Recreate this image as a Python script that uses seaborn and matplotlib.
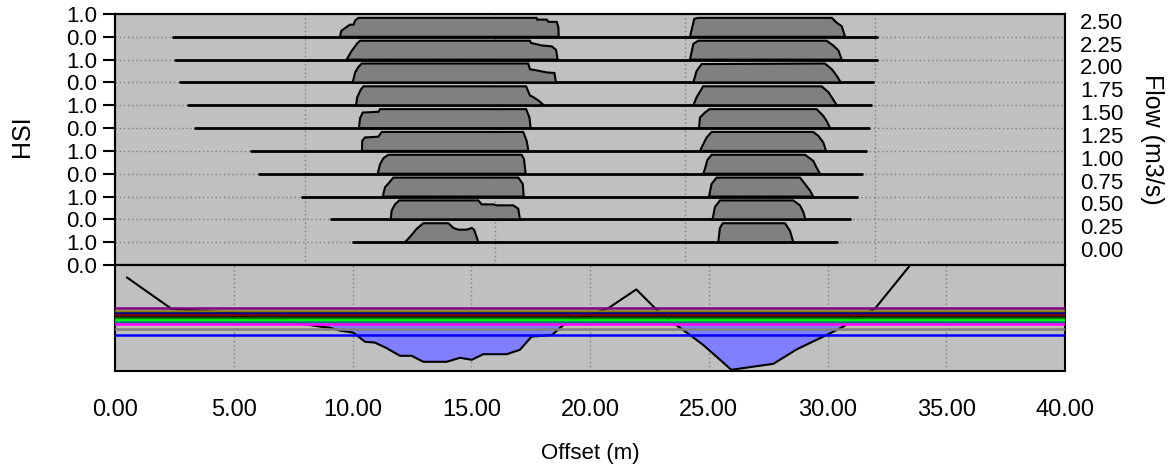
import numpy as np
import seaborn as sns
import matplotlib
matplotlib.use('Agg')
import matplotlib.pyplot as plt

# Flows (m3/s), bottom to top
flows = [0.00, 0.25, 0.50, 0.75, 1.00, 1.25, 1.50, 1.75, 2.00, 2.25, 2.50]

# HSI strips, listed from the top flow down (flow 0.00 has no habitat)
strip_flows = [2.50, 2.25, 2.00, 1.75, 1.50, 1.25, 1.00, 0.75, 0.50, 0.25]
wet_start = [2.43, 2.51, 2.74, 3.09, 3.37, 5.71, 6.05, 7.86, 9.09, 10.04]
wet_end = [32.07, 32.07, 31.93, 31.83, 31.76, 31.60, 31.44, 31.26, 30.95, 30.39]

left_x = [
    [9.47, 9.53, 9.89, 10.04, 10.11, 10.25, 17.75, 17.78, 18.18, 18.25, 18.60, 18.67, 18.68],
    [9.75, 9.96, 10.20, 10.32, 17.47, 17.52, 17.96, 18.39, 18.57, 18.64],
    [10.01, 10.11, 10.25, 10.39, 17.40, 17.47, 17.82, 18.18, 18.50, 18.57],
    [10.15, 10.20, 10.34, 10.46, 17.31, 17.47, 17.61, 17.82, 18.06],
    [10.27, 10.32, 10.43, 11.09, 11.16, 17.31, 17.45, 17.50],
    [10.40, 10.41, 10.53, 11.09, 11.23, 17.19, 17.33, 17.41],
    [11.06, 11.16, 11.30, 11.51, 17.12, 17.22, 17.29],
    [11.27, 11.37, 11.55, 11.72, 16.98, 17.17, 17.21],
    [11.61, 11.65, 11.79, 11.97, 15.30, 15.44, 15.93, 16.07, 16.77, 16.98, 17.05],
    [12.21, 12.42, 12.70, 12.98, 14.04, 14.25, 14.46, 14.81, 15.02, 15.12, 15.30],
]
left_hsi = [
    [0, 0.32, 0.64, 0.64, 0.86, 1, 1, 0.91, 0.91, 0.79, 0.79, 0.5, 0],
    [0, 0.45, 0.86, 1, 1, 0.88, 0.75, 0.70, 0.52, 0],
    [0, 0.53, 0.82, 1, 1, 0.70, 0.62, 0.53, 0.50, 0],
    [0, 0.43, 0.81, 1, 1, 0.52, 0.43, 0.26, 0],
    [0, 0.53, 0.82, 0.86, 1, 1, 0.56, 0],
    [0, 0.54, 0.71, 0.75, 1, 1, 0.54, 0],
    [0, 0.50, 0.82, 1, 1, 0.77, 0],
    [0, 0.49, 0.75, 1, 1, 0.67, 0],
    [0, 0.47, 0.79, 1, 1, 0.79, 0.79, 0.74, 0.74, 0.56, 0],
    [0, 0.28, 0.70, 1, 1, 0.75, 0.66, 0.66, 0.75, 0.66, 0],
]
right_x = [
    [24.21, 24.39, 24.56, 30.18, 30.39, 30.60, 30.74],
    [24.21, 24.35, 24.56, 29.96, 30.25, 30.46, 30.60],
    [24.35, 24.49, 24.70, 29.89, 30.18, 30.39, 30.56],
    [24.35, 24.49, 24.70, 24.76, 29.75, 30.04, 30.22, 30.39],
    [24.59, 24.63, 24.84, 25.03, 29.54, 29.82, 29.96, 30.11],
    [24.63, 24.77, 24.91, 25.12, 29.40, 29.61, 29.82, 29.94],
    [24.77, 24.84, 24.94, 25.12, 29.05, 29.40, 29.54, 29.68],
    [25.01, 25.12, 25.33, 28.84, 29.05, 29.26, 29.40],
    [25.16, 25.26, 25.47, 28.56, 28.84, 28.98, 29.07],
    [25.40, 25.47, 25.59, 28.21, 28.42, 28.56],
]
right_hsi = [
    [0, 0.95, 1, 1, 0.74, 0.56, 0],
    [0, 0.83, 1, 1, 0.74, 0.48, 0],
    [0, 0.61, 0.97, 1, 0.70, 0.35, 0],
    [0, 0.43, 0.86, 1, 1, 0.69, 0.34, 0],
    [0, 0.56, 0.82, 1, 1, 0.65, 0.39, 0],
    [0, 0.36, 0.71, 1, 1, 0.80, 0.45, 0],
    [0, 0.25, 0.72, 1, 1, 0.68, 0.33, 0],
    [0, 0.67, 1, 1, 0.67, 0.32, 0],
    [0, 0.65, 1, 1, 0.74, 0.39, 0],
    [0, 0.75, 1, 1, 0.60, 0],
]

# Cross-section (offset m, relative elevation)
ground_x = [0.50, 2.39, 4.98, 5.82, 6.95, 7.79, 8.63, 9.05, 9.47, 10.03, 10.53, 10.95,
            11.44, 12.00, 12.49, 12.98, 13.96, 14.53, 15.02, 15.51, 16.49, 17.05, 17.54,
            18.40, 18.88, 19.40, 20.77, 21.95, 22.74, 23.30, 24.21, 24.77, 25.95, 27.72,
            28.70, 29.96, 30.67, 31.09, 32.00, 33.50]
ground_z = [2.34, 1.55, 1.46, 1.28, 1.29, 1.19, 1.11, 1.08, 1.01, 0.96, 0.73, 0.71,
            0.57, 0.38, 0.38, 0.23, 0.23, 0.33, 0.28, 0.42, 0.42, 0.53, 0.86,
            0.90, 1.15, 1.29, 1.57, 2.04, 1.57, 1.29, 0.90, 0.65, 0.03, 0.18,
            0.54, 0.90, 1.11, 1.28, 1.56, 2.66]

# Water surface elevation per flow, from 2.50 down to 0.00
wse_flows = [2.50, 2.25, 2.00, 1.75, 1.50, 1.25, 1.00, 0.75, 0.50, 0.25, 0.00]
wse_level = [1.57, 1.51, 1.46, 1.41, 1.36, 1.32, 1.275, 1.225, 1.175, 1.04, 0.905]
wse_colors = ['#800080', '#808000', '#000080', '#800000', '#000000', '#008000',
              '#00ff00', '#008080', '#ff00ff', '#808080', '#0000ff']
shown_flow = 0.50

HSI_SCALE = 0.83
W, H = 1170, 468

sns.set_style('white')
plt.rcParams['font.family'] = ['Liberation Sans', 'DejaVu Sans']
plt.rcParams['text.color'] = 'black'
plt.rcParams['xtick.color'] = 'black'
plt.rcParams['ytick.color'] = 'black'
plt.rcParams['axes.labelcolor'] = 'black'

fig = plt.figure(figsize=(W / 100, H / 100), dpi=100)
ax = fig.add_axes([115 / W, 1 - 265 / H, 950 / W, 251 / H])
axb = fig.add_axes([115 / W, 1 - 371 / H, 950 / W, 106 / H])

grid_kw = dict(color='#808080', linestyle=(0, (1, 2)), linewidth=1)

# --- HSI strips ---
ax.set_facecolor('#c0c0c0')
ax.set_xlim(0, 40)
ax.set_ylim(0, 11)
ax.set_xticks([8, 16, 24, 32])
ax.set_yticks(range(12))
ax.set_yticklabels(['0.0' if i % 2 == 0 else '1.0' for i in range(12)])
ax.tick_params(axis='x', length=0, labelbottom=False)
ax.tick_params(axis='y', length=9, width=1.5, labelsize=16, pad=4,
               colors='black', labelcolor='black')
ax.grid(True, **grid_kw)
ax.set_axisbelow(True)

pos = {f: i for i, f in enumerate(flows)}
for k, f in enumerate(strip_flows):
    base = pos[f]
    sns.lineplot(x=[wet_start[k], wet_end[k]], y=[base, base], color='black',
                 linewidth=2, estimator=None, ax=ax)
    for xs, hs in ((left_x[k], left_hsi[k]), (right_x[k], right_hsi[k])):
        ax.fill(xs, base + HSI_SCALE * np.array(hs), facecolor='#808080',
                edgecolor='black', linewidth=1.5, zorder=3)

ax2 = ax.twinx()
ax2.set_ylim(0, 11)
ax2.set_yticks([pos[f] + 0.7 for f in flows])
ax2.set_yticklabels([f'{f:.2f}' for f in flows])
ax2.tick_params(axis='y', length=0, labelsize=16, pad=11, labelcolor='black')

# --- cross-section ---
axb.set_facecolor('#c0c0c0')
axb.set_xlim(0, 40)
axb.set_ylim(0, 2.65)
axb.set_xticks(range(0, 41, 5))
axb.set_xticklabels([f'{v:.2f}' for v in range(0, 41, 5)])
axb.set_yticks([])
axb.tick_params(axis='x', length=9, width=1.5, labelsize=17, pad=11,
                colors='black', labelcolor='black')
axb.grid(True, axis='x', **grid_kw)
axb.set_axisbelow(True)

gx = np.array(ground_x)
gz = np.array(ground_z)
level = wse_level[wse_flows.index(shown_flow)]
axb.fill_between(gx, gz, level, where=gz < level, interpolate=True,
                 color='#8080ff', linewidth=0, zorder=1)
sns.lineplot(x=gx, y=gz, sort=False, estimator=None, color='black',
             linewidth=1.5, ax=axb, zorder=2)
for lv, c in zip(wse_level, wse_colors):
    axb.axhline(lv, color=c, linewidth=1.8, zorder=3)

for a in (ax, ax2, axb):
    for s in a.spines.values():
        s.set_color('black')
        s.set_linewidth(1.5)
        s.set_visible(True)

fig.text(22 / W, 1 - 136 / H, 'HSI', rotation=90, ha='center', va='center',
         fontsize=18, color='black')
fig.text(1152 / W, 1 - 139 / H, 'Flow (m3/s)', rotation=270, ha='center', va='center',
         fontsize=18, color='black')
fig.text(590 / W, 1 - 453 / H, 'Offset (m)', ha='center', va='center',
         fontsize=16, color='black')

fig.savefig('out.png', dpi=100)
